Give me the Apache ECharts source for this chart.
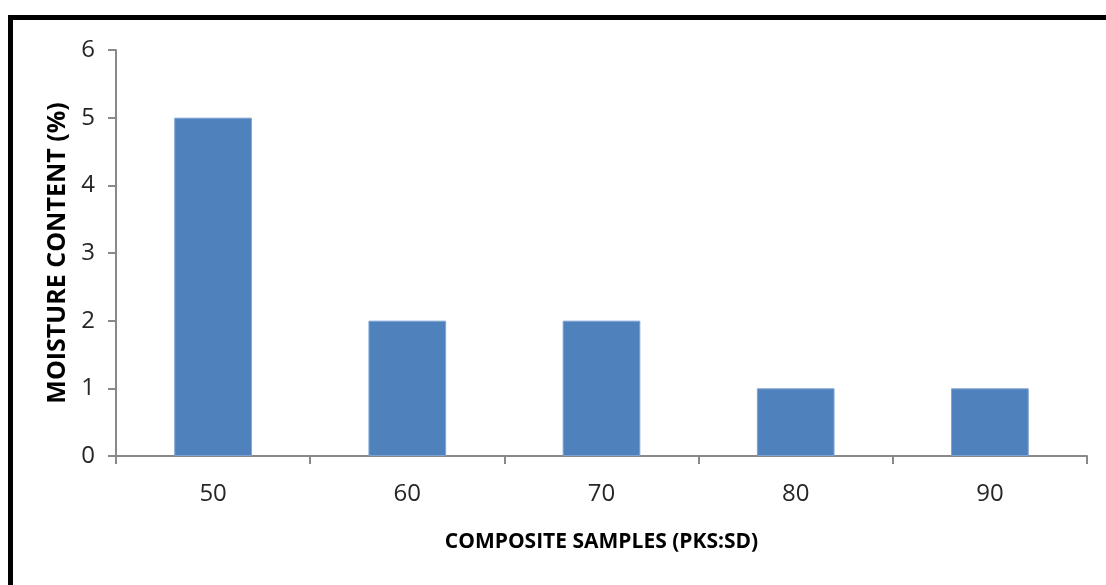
<!DOCTYPE html>
<html>
<head>
<meta charset="utf-8">
<script src="https://cdn.jsdelivr.net/npm/echarts@6/dist/echarts.min.js"></script>
<style>
  html, body { margin: 0; padding: 0; background: #fff; }
  #chart { width: 1106px; height: 585px; }
</style>
</head>
<body>
<div id="chart"></div>
<script>
// Composite samples (PKS:SD ratio) and their moisture content in percent
const categories = ['50', '60', '70', '80', '90'];
const moisture = [5, 2, 2, 1, 1];
const yTicks = { min: 0, max: 6, interval: 1 };

const FONT = '"Open Sans", sans-serif';
const AXIS_GRAY = '#898989';

const chart = echarts.init(document.getElementById('chart'), null, { renderer: 'canvas' });

chart.setOption({
  animation: false,
  backgroundColor: '#ffffff',
  grid: { left: 116, right: 19, top: 50, bottom: 129, containLabel: false },
  graphic: [{
    type: 'rect',
    shape: { x: 10.5, y: 17.5, width: 1300, height: 1000 },
    style: { fill: 'none', stroke: '#000', lineWidth: 5 },
    silent: true
  }],
  xAxis: {
    type: 'category',
    data: categories,
    name: 'COMPOSITE SAMPLES (PKS:SD)',
    nameLocation: 'middle',
    nameGap: 76,
    nameTextStyle: { fontFamily: FONT, fontWeight: 'bold', fontSize: 21, color: '#000' },
    axisLine: { lineStyle: { color: AXIS_GRAY, width: 2 } },
    axisTick: { show: true, alignWithLabel: false, length: 8, lineStyle: { color: AXIS_GRAY, width: 2 } },
    axisLabel: { fontFamily: FONT, fontSize: 24, color: '#262626', margin: 26 }
  },
  yAxis: {
    type: 'value',
    min: yTicks.min,
    max: yTicks.max,
    interval: yTicks.interval,
    name: 'MOISTURE CONTENT (%)',
    nameLocation: 'middle',
    nameGap: 45,
    nameRotate: 90,
    nameTextStyle: { fontFamily: FONT, fontWeight: 'bold', fontSize: 25, color: '#000' },
    splitLine: { show: false },
    axisLine: { show: true, lineStyle: { color: AXIS_GRAY, width: 2 } },
    axisTick: { show: true, length: 8, lineStyle: { color: AXIS_GRAY, width: 2 } },
    axisLabel: { fontFamily: FONT, fontSize: 24, color: '#262626', margin: 21 }
  },
  series: [{
    type: 'bar',
    data: moisture,
    barWidth: '40%',
    itemStyle: { color: '#4F81BD', borderColor: '#7ea3d0', borderWidth: 1 }
  }]
});
</script>
</body>
</html>
